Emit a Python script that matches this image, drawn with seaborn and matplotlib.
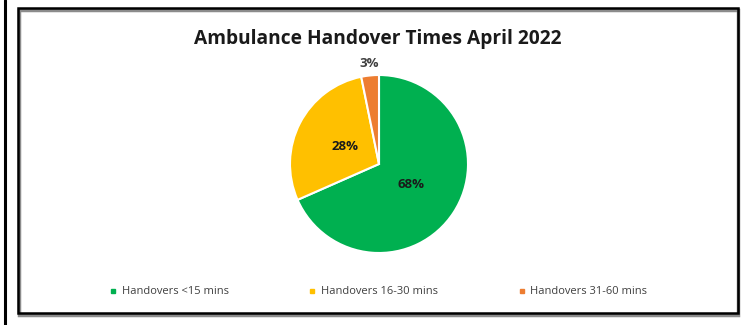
import numpy as np
import matplotlib.pyplot as plt
import seaborn as sns
from matplotlib.patches import Rectangle
from matplotlib.lines import Line2D

# Données du graphique
categories = ["Handovers <15 mins", "Handovers 16-30 mins", "Handovers 31-60 mins"]
shares = [68.4, 28.4, 3.2]
colors = ["#00B050", "#FFC000", "#ED7D31"]
title = "Ambulance Handover Times April 2022"

sns.set_theme(style="white")
plt.rcParams['font.family'] = ['Open Sans', 'DejaVu Sans']

W, H = 743, 325
fig = plt.figure(figsize=(W / 100, H / 100), dpi=100)
fig.patch.set_facecolor("white")

# Cadre extérieur (trait noir à gauche) et boîte du graphique
fig.add_artist(Line2D([4.5 / W, 4.5 / W], [0, 1], color="black", lw=2.2,
                      transform=fig.transFigure))
fig.add_artist(Rectangle((19 / W, (H - 315) / H), 719 / W, 305 / H,
                         transform=fig.transFigure, fill=False,
                         edgecolor="#8c8c8c", lw=2.5))
fig.add_artist(Rectangle((17.5 / W, (H - 313) / H), 720 / W, 305 / H,
                         transform=fig.transFigure, fill=False,
                         edgecolor="black", lw=1.8))

# Camembert (sens horaire depuis le haut)
cx, cy, r = 379, 164, 89
ax = fig.add_axes([(cx - r) / W, (H - cy - r) / H, 2 * r / W, 2 * r / H])
wedges, _, autotexts = ax.pie(
    shares, colors=colors, startangle=90, counterclock=False,
    autopct="%.0f%%", pctdistance=0.43,
    wedgeprops=dict(edgecolor="white", linewidth=1.5),
    textprops=dict(fontsize=9.5, fontweight="bold", color="#1a1a1a"),
)
# la petite part : étiquette à l'extérieur
small = autotexts[2]
x, y = small.get_position()
small.set_position((x * 1.13 / 0.43, y * 1.13 / 0.43))
small.set_color("#404040")
ax.set_xlim(-1, 1)
ax.set_ylim(-1, 1)
ax.set_aspect("equal")
ax.axis("off")

fig.text(378 / W, 1 - 39 / H, title, ha="center", va="center",
         fontsize=13.8, fontweight="bold", color="#1a1a1a")

# Légende en bas
handles = [Line2D([], [], marker="s", ls="", color=c, markersize=3.5) for c in colors]
fig.legend(handles, categories, loc="center", bbox_to_anchor=(378 / W, 1 - 292 / H),
           ncol=3, frameon=False, fontsize=8, labelcolor="#404040",
           handletextpad=0.4, columnspacing=7.1, handlelength=0.8)

fig.savefig("out.png", dpi=100, facecolor="white")
